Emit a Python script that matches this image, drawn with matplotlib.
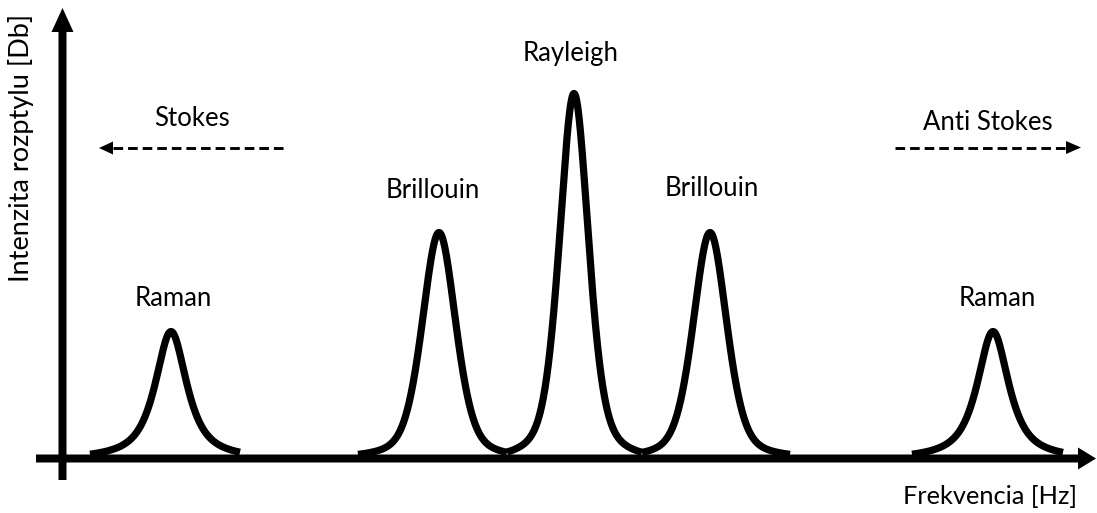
import numpy as np
import matplotlib
matplotlib.use("Agg")
import matplotlib.pyplot as plt

# ---- data (frequency in arbitrary px-like units, intensity above baseline) ----
peak_labels = ["Raman", "Brillouin", "Rayleigh", "Brillouin", "Raman"]
peak_centers = [171, 439, 574, 710, 993]
peak_heights = [125, 224, 363, 224, 125]
peak_fwhm = [38, 40, 35, 40, 38]
peak_eta = [0.85, 0.4, 0.45, 0.4, 0.85]
seg_left = [90, 358, 507, 642, 912]
seg_right = [240, 507, 642, 790, 1063]

x_label = "Frekvencia [Hz]"
y_label = "Intenzita rozptylu [Db]"

W, H = 1097, 513
BASE = 458.5  # pixel row of the frequency axis


def py(p):
    """pixel row -> data y"""
    return BASE - p


fig = plt.figure(figsize=(W / 100, H / 100), dpi=100)
ax = fig.add_axes([0, 0, 1, 1])
ax.set_xlim(0, W)
ax.set_ylim(BASE - H, BASE)
ax.axis("off")

font = ["Lato", "DejaVu Sans"]

# peaks
for c, h, fw, eta, l, r in zip(peak_centers, peak_heights, peak_fwhm, peak_eta, seg_left, seg_right):
    x = np.linspace(l, r, 400)
    g = np.exp(-4 * np.log(2) * ((x - c) / fw) ** 2)
    lo = 1.0 / (1.0 + ((x - c) / (fw / 2)) ** 2)
    prof = eta * lo + (1 - eta) * g
    end = min(prof[0], prof[-1])
    prof = (prof - end * 0.6) / (1 - end * 0.6)
    ax.plot(x, h * prof + 2, color="black", lw=5.2, solid_capstyle="butt", zorder=3)

# axes arrows
ax.arrow(62.5, py(480), 0, (480 - 8), width=8, head_width=22, head_length=24,
         length_includes_head=True, color="black", lw=0, zorder=4)
ax.arrow(36, 0, 1096 - 36, 0, width=8, head_width=22, head_length=18,
         length_includes_head=True, color="black", lw=0, zorder=4)

# dashed direction arrows
dash_ls = (0, (3.3, 1.7))
ax.plot([113, 285], [py(148), py(148)], color="black", lw=2.1, ls=dash_ls)
ax.fill([99, 113, 113], [py(148), py(141.5), py(154.5)], color="black", lw=0)
ax.plot([895, 1066], [py(147.5), py(147.5)], color="black", lw=2.1, ls=dash_ls)
ax.fill([1081, 1066, 1066], [py(147.5), py(141), py(154)], color="black", lw=0)

fs = 18.5
ax.text(192.5, py(119), "Stokes", ha="center", va="center", fontsize=fs, family=font)
ax.text(988, py(123), "Anti Stokes", ha="center", va="center", fontsize=fs, family=font)

label_rows = [298, 191, 53, 188, 298]
label_x = [173, 433, 571, 712, 997]
for lab, lx, lr in zip(peak_labels, label_x, label_rows):
    ax.text(lx, py(lr), lab, ha="center", va="center", fontsize=fs, family=font)

ax.text(1077, py(497), x_label, ha="right", va="center", fontsize=18.3, family=font)
ax.text(21, py(148), y_label, ha="center", va="center", rotation=90, fontsize=19.5, family=font)

fig.savefig("out.png", dpi=100)
